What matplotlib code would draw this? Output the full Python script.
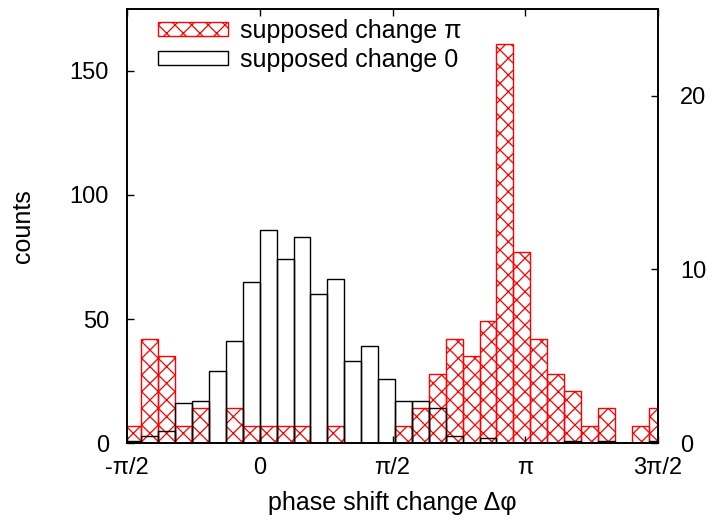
import numpy as np
import matplotlib
matplotlib.use('Agg')
import matplotlib.pyplot as plt

plt.rcParams['font.family'] = ['Liberation Sans', 'DejaVu Sans']
plt.rcParams['hatch.linewidth'] = 0.9

# histogram bins (radians), width 0.2
bin_edges = np.round(np.arange(-1.6, 4.81, 0.2), 1)

# supposed change 0 (left axis, counts)
counts_zero = [1, 3, 5, 16, 17, 29, 41, 65, 86, 74, 83, 60, 66, 33, 39, 26,
               17, 17, 14, 3, 0, 2, 0, 0, 0, 0, 1, 0, 1, 0, 0, 1]
# supposed change pi (right axis, counts)
counts_pi = [1, 6, 5, 1, 2, 0, 2, 1, 1, 1, 1, 0, 1, 0, 0, 0,
             1, 2, 4, 6, 5, 7, 23, 11, 6, 4, 3, 1, 2, 0, 1, 2]

xtick_pos = [-np.pi / 2, 0, np.pi / 2, np.pi, 3 * np.pi / 2]
xtick_labels = ['-\u03c0/2', '0', '\u03c0/2', '\u03c0', '3\u03c0/2']

fig = plt.figure(figsize=(7.12, 5.22), dpi=100)
ax = fig.add_axes([0.1784, 0.1513, 0.9242 - 0.1784, 0.9828 - 0.1513])
ax2 = ax.twinx()

left = bin_edges[:-1]
width = np.diff(bin_edges)

# red hatched bars on the right axis
red = ax2.bar(left, counts_pi, width=width, align='edge', facecolor='none',
              edgecolor='#ff0000', hatch='xx', linewidth=1.0)
# black outline bars on the left axis, drawn on top
blk = ax.bar(left, counts_zero, width=width, align='edge', facecolor='none',
             edgecolor='black', linewidth=1.0)

ax.set_zorder(ax2.get_zorder() + 1)
ax.patch.set_visible(False)

ax.set_xlim(-np.pi / 2, 3 * np.pi / 2)
ax.set_ylim(0, 175)
ax2.set_ylim(0, 25)

ax.set_xticks(xtick_pos)
ax.set_xticklabels(xtick_labels)
ax.set_yticks([0, 50, 100, 150])
ax2.set_yticks([0, 10, 20])

fs_tick = 17
fs = 18
ax.tick_params(axis='x', direction='in', top=True, length=5, width=1, labelsize=fs_tick, pad=10)
ax.tick_params(axis='y', direction='in', right=False, length=5, width=1, labelsize=fs_tick, pad=13)
ax2.tick_params(axis='y', direction='in', length=5, width=1, labelsize=fs_tick, pad=16)

for a in (ax, ax2):
    for s in a.spines.values():
        s.set_linewidth(1.2)

ax.set_xlabel('phase shift change \u0394\u03c6', fontsize=fs, labelpad=9)
ax.set_ylabel('counts', fontsize=fs, labelpad=25)

# legend handles
h_red = matplotlib.patches.Patch(facecolor='white', edgecolor='#ff0000', hatch='xx', linewidth=1.0)
h_blk = matplotlib.patches.Patch(facecolor='white', edgecolor='black', linewidth=1.0)
ax.legend([h_red, h_blk], ['supposed change \u03c0', 'supposed change 0'],
          loc='upper left', bbox_to_anchor=(0.03, 1.012), frameon=False,
          fontsize=fs, handlelength=2.8, handleheight=0.5, handletextpad=0.5,
          labelspacing=0.2, borderaxespad=0.2)

fig.savefig('out.png', dpi=100)
